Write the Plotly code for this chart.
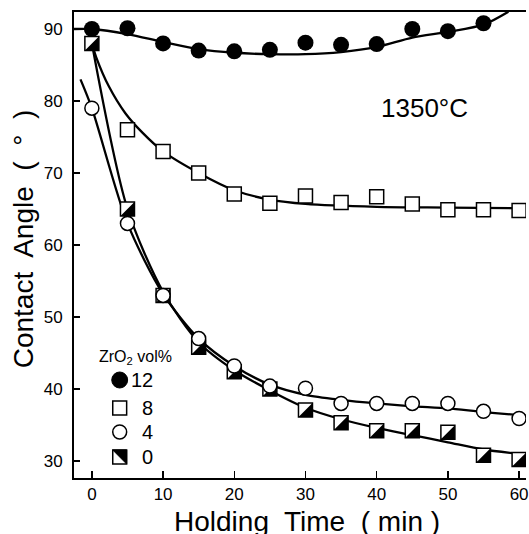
import plotly.graph_objects as go

# ---------------- data ----------------
time_12 = [0, 5, 10, 15, 20, 25, 30, 35, 40, 45, 50, 55]
angle_12 = [90.0, 90.1, 88.0, 87.0, 86.9, 87.1, 88.1, 87.8, 87.9, 90.0, 89.7, 90.8]

time_8 = [5, 10, 15, 20, 25, 30, 35, 40, 45, 50, 55, 60]
angle_8 = [76.0, 73.0, 70.0, 67.1, 65.8, 66.8, 65.9, 66.7, 65.7, 64.9, 64.9, 64.8]

time_4 = [0, 5, 10, 15, 20, 25, 30, 35, 40, 45, 50, 55, 60]
angle_4 = [79.0, 63.0, 53.0, 47.0, 43.2, 40.4, 40.1, 38.0, 38.0, 38.0, 38.0, 36.9, 35.9]

time_0 = [0, 5, 10, 15, 20, 25, 30, 35, 40, 45, 50, 55, 60]
angle_0 = [88.0, 65.0, 53.0, 45.8, 42.4, 40.0, 37.1, 35.3, 34.2, 34.2, 34.0, 30.8, 30.2]

# hand-drawn fitted curves
fit12_t = [-2.5, 0, 5, 10, 15, 20, 25, 30, 35, 40, 45, 50, 55, 58.5]
fit12_a = [90.0, 90.0, 89.3, 88.2, 87.2, 86.7, 86.5, 86.5, 86.8, 87.5, 88.8, 89.6, 90.6, 92.4]

fit8_t = [0, 0.6, 2.4, 4.7, 7.1, 10, 15, 20, 25, 30, 40, 50, 61]
fit8_a = [88.0, 86.1, 82.0, 78.3, 75.6, 73.0, 70.0, 67.6, 66.3, 65.7, 65.3, 65.2, 65.1]

fit4_t = [-1.6, 0, 5, 10, 15, 20, 25, 30, 35, 40, 45, 50, 55, 61]
fit4_a = [83.0, 79.0, 63.0, 53.2, 47.0, 43.2, 40.6, 39.2, 38.5, 38.0, 37.6, 37.3, 36.8, 36.3]

fit0_t = [0, 5, 10, 15, 20, 25, 30, 35, 40, 45, 50, 55, 61]
fit0_a = [88.0, 65.0, 53.5, 46.5, 42.6, 39.8, 37.4, 35.8, 34.6, 33.6, 32.6, 31.6, 30.9]

x_ticks = [0, 10, 20, 30, 40, 50, 60]
y_ticks = [30, 40, 50, 60, 70, 80, 90]

legend_title = "ZrO<sub>2</sub> vol%"
legend_labels = ["12", "8", "4", "0"]
temp_label = "1350°C"
x_title = "Holding  Time  ( min )"
y_title = "Contact  Angle  (  °  )"

# ---------------- layout geometry ----------------
W, H = 529, 534
L, R, T, B = 74, 0, 12, 56
PW, PH = W - L - R, H - T - B
x_range = [-2.51, 60.97]
y_range = [27.64, 92.36]
FONT = "Liberation Sans, Arial, sans-serif"


def px2paper(px, py):
    return (px - L) / PW, (H - B - py) / PH


# pixel offset that puts the black triangle into the lower-right half of the square
SQ = 14
tri_size = SQ / 0.9
tri_off = SQ / 2 - 0.3 * tri_size
dx = tri_off * (x_range[1] - x_range[0]) / PW
dy = tri_off * (y_range[1] - y_range[0]) / PH

fig = go.Figure()
line_style = dict(color="black", width=2.3, shape="spline", smoothing=0.8)
for t, a in [(fit12_t, fit12_a), (fit8_t, fit8_a), (fit4_t, fit4_a), (fit0_t, fit0_a)]:
    fig.add_trace(go.Scatter(x=t, y=a, mode="lines", line=line_style,
                             showlegend=False, hoverinfo="skip"))

# 0 vol%: white square ...
fig.add_trace(go.Scatter(x=time_0, y=angle_0, mode="markers", showlegend=False,
                         marker=dict(symbol="square", size=SQ, color="white",
                                     line=dict(color="black", width=1.5))))
# ... with black lower-right half
fig.add_trace(go.Scatter(x=time_0, y=angle_0, mode="markers", showlegend=False,
                         xaxis="x2", yaxis="y2",
                         marker=dict(symbol="triangle-se", size=tri_size, color="black",
                                     line=dict(width=0))))
# 4, 8, 12 vol%
fig.add_trace(go.Scatter(x=time_4, y=angle_4, mode="markers", showlegend=False,
                         xaxis="x3", yaxis="y3",
                         marker=dict(symbol="circle", size=14, color="white",
                                     line=dict(color="black", width=1.5))))
fig.add_trace(go.Scatter(x=time_8, y=angle_8, mode="markers", showlegend=False,
                         xaxis="x3", yaxis="y3",
                         marker=dict(symbol="square", size=SQ, color="white",
                                     line=dict(color="black", width=1.5))))
fig.add_trace(go.Scatter(x=time_12, y=angle_12, mode="markers", showlegend=False,
                         xaxis="x3", yaxis="y3",
                         marker=dict(symbol="circle", size=16, color="black",
                                     line=dict(width=0))))

# ---------------- legend drawn inside the plot ----------------
shapes = []
leg_x = 120
leg_rows = [380, 408, 432, 457]
r = 8
x0, y0 = px2paper(leg_x - r, leg_rows[0] - r)
x1, y1 = px2paper(leg_x + r, leg_rows[0] + r)
shapes.append(dict(type="circle", xref="paper", yref="paper", x0=x0, y0=y0, x1=x1, y1=y1,
                   fillcolor="black", line=dict(color="black", width=1)))
r = 7
x0, y0 = px2paper(leg_x - r, leg_rows[1] - r)
x1, y1 = px2paper(leg_x + r, leg_rows[1] + r)
shapes.append(dict(type="rect", xref="paper", yref="paper", x0=x0, y0=y0, x1=x1, y1=y1,
                   fillcolor="white", line=dict(color="black", width=1.5)))
x0, y0 = px2paper(leg_x - r, leg_rows[2] - r)
x1, y1 = px2paper(leg_x + r, leg_rows[2] + r)
shapes.append(dict(type="circle", xref="paper", yref="paper", x0=x0, y0=y0, x1=x1, y1=y1,
                   fillcolor="white", line=dict(color="black", width=1.5)))
x0, y0 = px2paper(leg_x - r, leg_rows[3] - r)
x1, y1 = px2paper(leg_x + r, leg_rows[3] + r)
shapes.append(dict(type="rect", xref="paper", yref="paper", x0=x0, y0=y0, x1=x1, y1=y1,
                   fillcolor="white", line=dict(color="black", width=1.5)))
shapes.append(dict(type="path", xref="paper", yref="paper",
                   path=f"M {x0},{y0} L {x1},{y0} L {x1},{y1} Z",
                   fillcolor="black", line=dict(color="black", width=1)))

annotations = []
lx, ly = px2paper(97, 357)
annotations.append(dict(x=lx, y=ly, xref="paper", yref="paper", text=legend_title,
                        showarrow=False, xanchor="left", yanchor="middle",
                        font=dict(family=FONT, size=16, color="black")))
for lab, py in zip(legend_labels, leg_rows):
    ax_, ay_ = px2paper(156, py)
    annotations.append(dict(x=ax_, y=ay_, xref="paper", yref="paper", text=lab,
                            showarrow=False, xanchor="right", yanchor="middle",
                            font=dict(family=FONT, size=20, color="black")))

tx, ty = px2paper(427, 108)
annotations.append(dict(x=tx, y=ty, xref="paper", yref="paper", text=temp_label,
                        showarrow=False, xanchor="center", yanchor="middle",
                        font=dict(family=FONT, size=26, color="black")))
xt, yt = px2paper(308.5, 521)
annotations.append(dict(x=xt, y=yt, xref="paper", yref="paper", text=x_title,
                        showarrow=False, xanchor="center", yanchor="middle",
                        font=dict(family=FONT, size=28, color="black")))
xt, yt = px2paper(24, 239)
annotations.append(dict(x=xt, y=yt, xref="paper", yref="paper", text=y_title,
                        showarrow=False, xanchor="center", yanchor="middle", textangle=-90,
                        font=dict(family=FONT, size=28, color="black")))

hidden = dict(visible=False, fixedrange=True)
fig.update_layout(
    width=W, height=H,
    margin=dict(l=L, r=R, t=T, b=B, pad=0),
    paper_bgcolor="white", plot_bgcolor="rgba(0,0,0,0)",
    font=dict(family=FONT, size=17, color="black"),
    showlegend=False,
    xaxis=dict(range=x_range, tickvals=x_ticks, ticks="inside", ticklen=7, tickwidth=1.5,
               tickcolor="black", showline=True, linecolor="black", linewidth=2,
               mirror=True, showgrid=False, zeroline=False, ticklabeloverflow="allow",
               tickfont=dict(family=FONT, size=17, color="black")),
    yaxis=dict(range=y_range, tickvals=y_ticks, ticks="inside", ticklen=6, tickwidth=1.5,
               tickcolor="black", showline=True, linecolor="black", linewidth=2,
               mirror=False, showgrid=False, zeroline=False, ticklabelstandoff=6,
               ticklabeloverflow="allow",
               tickfont=dict(family=FONT, size=17, color="black")),
    xaxis2=dict(overlaying="x", range=[x_range[0] - dx, x_range[1] - dx], **hidden),
    yaxis2=dict(overlaying="y", range=[y_range[0] + dy, y_range[1] + dy], **hidden),
    xaxis3=dict(overlaying="x", range=x_range, **hidden),
    yaxis3=dict(overlaying="y", range=y_range, **hidden),
    shapes=shapes,
    annotations=annotations,
)

fig.write_html("out.html",
               config={"displayModeBar": False, "staticPlot": True},
               post_script="document.body.style.margin='0';"
                           "document.body.style.overflow='hidden';")
